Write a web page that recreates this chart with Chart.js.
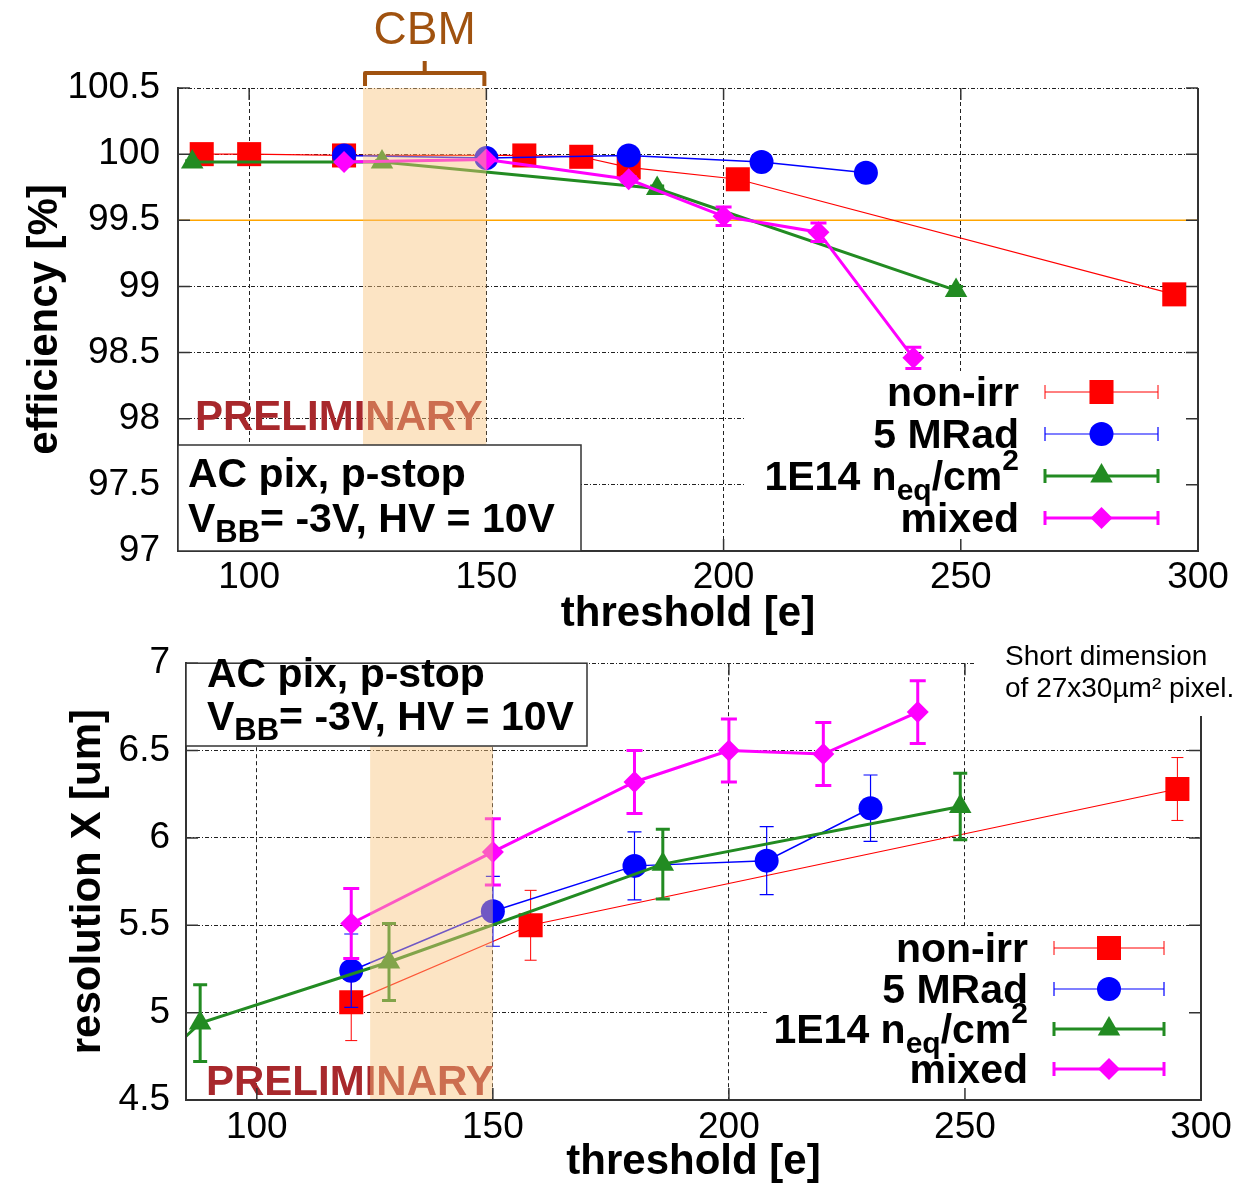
<!DOCTYPE html>
<html>
<head>
<meta charset="utf-8">
<script src="https://cdn.jsdelivr.net/npm/chart.js@4.4.0/dist/chart.umd.min.js"></script>
<style>
	body { margin: 0; background: #fff; }
	#wrap { position: relative; width: 1253px; height: 1183px; overflow: hidden; background: #fff; }
	canvas { position: absolute; left: 0; }
	#cTop { top: 0; }
	#cBot { top: 625px; }
</style>
</head>
<body>
<div id="wrap">
	<canvas id="cTop" width="1253" height="645"></canvas>
	<canvas id="cBot" width="1253" height="558"></canvas>
</div>
<script>
//Data-------------------------------------
var xTicks = [100, 150, 200, 250, 300];
var thrMin = 85, thrMax = 300;
var bandLo = 124, bandHi = 150; //CBM threshold window
var effRefLine = 99.5;

//efficiency [%] vs threshold [e]
var effThrNonIrr = [90, 100, 120, 158, 170, 180, 203, 295];
var effNonIrr = [100.0, 100.0, 99.99, 99.99, 99.98, 99.90, 99.81, 98.94];
var effErrNonIrr = [0.01, 0.01, 0.01, 0.01, 0.01, 0.01, 0.01, 0.01];
var effThr5MRad = [120, 150, 180, 208, 230];
var eff5MRad = [99.99, 99.97, 99.99, 99.94, 99.86];
var effErr5MRad = [0.01, 0.01, 0.01, 0.01, 0.015];
var effThrNeq = [88, 128, 186, 249];
var effNeq = [99.94, 99.94, 99.74, 98.97];
var effErrNeq = [0.01, 0.01, 0.02, 0.03];
var effThrMixed = [120, 150, 180, 200, 220, 240];
var effMixed = [99.94, 99.96, 99.81, 99.53, 99.41, 98.46];
var effErrMixed = [0.01, 0.01, 0.02, 0.07, 0.07, 0.08];

//resolution X [um] vs threshold [e]
var resThrNonIrr = [120, 158, 295];
var resNonIrr = [5.06, 5.50, 6.28];
var resErrNonIrr = [0.22, 0.20, 0.18];
var resThr5MRad = [120, 150, 180, 208, 230];
var res5MRad = [5.24, 5.58, 5.84, 5.87, 6.17];
var resErr5MRad = [0.21, 0.20, 0.195, 0.195, 0.19];
var resThrNeq = [80, 88, 128, 186, 249];
var resNeq = [4.74, 4.94, 5.29, 5.85, 6.18];
var resErrNeq = [0.22, 0.22, 0.22, 0.20, 0.19];
var resThrMixed = [120, 150, 180, 200, 220, 240];
var resMixed = [5.51, 5.92, 6.32, 6.50, 6.48, 6.72];
var resErrMixed = [0.20, 0.19, 0.18, 0.18, 0.18, 0.18];

//Styles------------------------------------
var FONT = "'Liberation Sans', Arial, Helvetica, sans-serif";
var bandColor = 'rgba(248,195,124,0.45)';
var prelimColor = '#a8282c';
var cbmColor = '#a0520f';

var seriesStyle = [
	{ name: 'non-irr', color: '#ff0000', line: 1.2, err: 1, cap: 6, shape: 'rect', r: 17 },
	{ name: '5 MRad', color: '#0000ff', line: 1.5, err: 1.2, cap: 7, shape: 'circle', r: 12 },
	{ name: '1E14 neq/cm2', color: '#228b22', line: 3, err: 3, cap: 7, shape: 'triangle', r: 13 },
	{ name: 'mixed', color: '#ff00ff', line: 3, err: 3, cap: 8, shape: 'rectRot', r: 11 }
];
var legendParts = [
	[{ t: 'non-irr' }],
	[{ t: '5 MRad' }],
	[{ t: '1E14 n' }, { t: 'eq', sub: true }, { t: '/cm' }, { t: '2', sup: true }],
	[{ t: 'mixed' }]
];

//Helpers-----------------------------------
function makeDatasets(thrs, vals, errs) {
	var list = [];
	for (var i = 0; i < seriesStyle.length; i++) {
		var s = seriesStyle[i];
		var pts = [];
		for (var j = 0; j < thrs[i].length; j++)
			pts.push({ x: thrs[i][j], y: vals[i][j] });
		list.push({
			label: s.name,
			data: pts,
			errY: errs[i],
			errW: s.err,
			capW: s.cap,
			showLine: true,
			borderColor: s.color,
			backgroundColor: s.color,
			borderWidth: s.line,
			pointStyle: s.shape,
			pointRadius: s.r,
			pointBorderWidth: 0,
			pointBackgroundColor: s.color,
			order: seriesStyle.length - i //red at the bottom, mixed on top
		});
	}
	return list;
}

function drawErrorBars(chart, index) {
	var ds = chart.data.datasets[index];
	if (!ds.errY) return;
	var ctx = chart.ctx, xs = chart.scales.x, ys = chart.scales.y;
	ctx.save();
	ctx.strokeStyle = ds.borderColor;
	ctx.lineWidth = ds.errW;
	for (var i = 0; i < ds.data.length; i++) {
		var p = ds.data[i];
		if (p.x < xs.min || p.x > xs.max) continue;
		var x = xs.getPixelForValue(p.x);
		var y0 = ys.getPixelForValue(p.y - ds.errY[i]);
		var y1 = ys.getPixelForValue(p.y + ds.errY[i]);
		ctx.beginPath();
		ctx.moveTo(x, y0); ctx.lineTo(x, y1);
		ctx.moveTo(x - ds.capW, y0); ctx.lineTo(x + ds.capW, y0);
		ctx.moveTo(x - ds.capW, y1); ctx.lineTo(x + ds.capW, y1);
		ctx.stroke();
	}
	ctx.restore();
}

function drawMarker(ctx, shape, x, y, r, color) {
	ctx.fillStyle = color;
	ctx.beginPath();
	if (shape === 'rect') {
		var h = r * Math.SQRT1_2;
		ctx.rect(x - h, y - h, 2 * h, 2 * h);
	} else if (shape === 'circle') {
		ctx.arc(x, y, r, 0, Math.PI * 2);
	} else if (shape === 'triangle') {
		ctx.moveTo(x, y - r);
		ctx.lineTo(x + r * Math.sqrt(3) / 2, y + r / 2);
		ctx.lineTo(x - r * Math.sqrt(3) / 2, y + r / 2);
		ctx.closePath();
	} else {
		ctx.moveTo(x - r, y); ctx.lineTo(x, y - r);
		ctx.lineTo(x + r, y); ctx.lineTo(x, y + r);
		ctx.closePath();
	}
	ctx.fill();
}

//text with sub/superscripts, drawn piece by piece
function richText(ctx, parts, x, y, align, size, subSize) {
	var total = 0;
	var widths = [];
	for (var i = 0; i < parts.length; i++) {
		var p = parts[i];
		ctx.font = 'bold ' + ((p.sub || p.sup) ? subSize : size) + 'px ' + FONT;
		widths[i] = ctx.measureText(p.t).width;
		total += widths[i];
	}
	var cx = align === 'right' ? x - total : x;
	ctx.textAlign = 'left';
	ctx.textBaseline = 'alphabetic';
	for (var i = 0; i < parts.length; i++) {
		var p = parts[i];
		ctx.font = 'bold ' + ((p.sub || p.sup) ? subSize : size) + 'px ' + FONT;
		var dy = p.sub ? 10 : (p.sup ? -20 : 0);
		ctx.fillText(p.t, cx, y + dy);
		cx += widths[i];
	}
}

function drawLegend(ctx, textRight, sx0, sx1, rowsY) {
	var mx = (sx0 + sx1) / 2;
	ctx.save();
	for (var i = 0; i < seriesStyle.length; i++) {
		var s = seriesStyle[i], y = rowsY[i];
		ctx.fillStyle = '#000';
		richText(ctx, legendParts[i], textRight, y + 14, 'right', 41, 30);
		ctx.strokeStyle = s.color;
		ctx.lineWidth = s.err;
		ctx.beginPath();
		ctx.moveTo(sx0, y); ctx.lineTo(sx1, y);
		ctx.moveTo(sx0, y - 7); ctx.lineTo(sx0, y + 7);
		ctx.moveTo(sx1, y - 7); ctx.lineTo(sx1, y + 7);
		ctx.stroke();
		drawMarker(ctx, s.shape, mx, y, s.r, s.color);
	}
	ctx.restore();
}

function drawBand(chart) {
	var ctx = chart.ctx, a = chart.chartArea, xs = chart.scales.x;
	var x0 = xs.getPixelForValue(bandLo), x1 = xs.getPixelForValue(bandHi);
	ctx.save();
	ctx.fillStyle = bandColor;
	ctx.fillRect(x0, a.top, x1 - x0, a.bottom - a.top);
	ctx.restore();
}

function drawPrelim(ctx, x, y) {
	ctx.save();
	ctx.font = 'bold 42px ' + FONT;
	ctx.fillStyle = prelimColor;
	ctx.textAlign = 'left';
	ctx.textBaseline = 'alphabetic';
	ctx.fillText('PRELIMINARY', x, y);
	ctx.restore();
}

//gnuplot-like frame: solid borders and inward ticks on all four sides
function drawFrame(chart) {
	var ctx = chart.ctx, a = chart.chartArea, xs = chart.scales.x, ys = chart.scales.y;
	ctx.save();
	ctx.strokeStyle = '#333';
	ctx.lineWidth = 2;
	ctx.beginPath();
	ctx.moveTo(a.left, a.top); ctx.lineTo(a.left, a.bottom);
	ctx.lineTo(a.right, a.bottom); ctx.lineTo(a.right, a.top);
	ctx.stroke();
	ctx.lineWidth = 1.5;
	ctx.beginPath();
	for (var i = 0; i < xTicks.length; i++) {
		var x = xs.getPixelForValue(xTicks[i]);
		ctx.moveTo(x, a.bottom); ctx.lineTo(x, a.bottom - 12);
		ctx.moveTo(x, a.top); ctx.lineTo(x, a.top + 12);
	}
	for (var j = 0; j < ys.ticks.length; j++) {
		var y = ys.getPixelForValue(ys.ticks[j].value);
		ctx.moveTo(a.left, y); ctx.lineTo(a.left + 12, y);
		ctx.moveTo(a.right, y); ctx.lineTo(a.right - 12, y);
	}
	ctx.stroke();
	ctx.restore();
}

function drawInfoBox(ctx, x0, y0, x1, y1, tx, base1, base2) {
	ctx.save();
	ctx.fillStyle = '#fff';
	ctx.fillRect(x0, y0, x1 - x0, y1 - y0);
	ctx.strokeStyle = '#333';
	ctx.lineWidth = 1.5;
	ctx.strokeRect(x0, y0, x1 - x0, y1 - y0);
	ctx.fillStyle = '#000';
	richText(ctx, [{ t: 'AC pix, p-stop' }], tx, base1, 'left', 41, 31);
	richText(ctx, [{ t: 'V' }, { t: 'BB', sub: true }, { t: '= -3V, HV = 10V' }], tx, base2, 'left', 41, 31);
	ctx.restore();
}

//plain tick text: 100 not 100.0
function tickText(v) {
	return String(Math.round(v * 100) / 100);
}

function makeOptions(cfg) {
	return {
		responsive: false,
		animation: false,
		events: [],
		layout: { padding: { left: 0, top: cfg.padTop, right: cfg.padRight, bottom: 0 } },
		plugins: { legend: { display: false }, tooltip: { enabled: false } },
		scales: {
			x: {
				type: 'linear',
				min: thrMin,
				max: thrMax,
				afterBuildTicks: function (scale) {
					scale.ticks = xTicks.map(function (v) { return { value: v }; });
				},
				afterFit: function (scale) { scale.height = cfg.xHeight; },
				grid: { color: '#222', lineWidth: 1, drawTicks: false },
				border: { display: true, color: '#333', width: 2, dash: [4, 3] },
				ticks: { color: '#000', padding: cfg.xTickPad, font: { size: 37, family: FONT }, callback: tickText },
				title: {
					display: true,
					text: 'threshold [e]',
					color: '#000',
					padding: { top: 0, bottom: cfg.xTitlePad },
					font: { size: 42, weight: 'bold', family: FONT, lineHeight: 1 }
				}
			},
			y: {
				min: cfg.yMin,
				max: cfg.yMax,
				afterFit: function (scale) { scale.width = cfg.yWidth; },
				grid: { color: '#222', lineWidth: 1, drawTicks: false },
				border: { display: true, color: '#333', width: 2, dash: [4, 2, 1, 2] },
				ticks: { stepSize: 0.5, color: '#000', padding: cfg.yTickPad, font: { size: 37, family: FONT }, callback: tickText },
				title: {
					display: true,
					text: cfg.yTitle,
					color: '#000',
					padding: { top: cfg.yTitlePad, bottom: 0 },
					font: { size: 42, weight: 'bold', family: FONT, lineHeight: 1 }
				}
			}
		}
	};
}

//Top chart: efficiency---------------------
var topDecor = {
	id: 'topDecor',
	beforeDatasetsDraw: function (chart) {
		//99.5 % reference line
		var ctx = chart.ctx, a = chart.chartArea;
		var y = chart.scales.y.getPixelForValue(effRefLine);
		ctx.save();
		ctx.strokeStyle = '#ffa500';
		ctx.lineWidth = 1.5;
		ctx.beginPath();
		ctx.moveTo(a.left, y); ctx.lineTo(a.right, y);
		ctx.stroke();
		ctx.restore();
	},
	beforeDatasetDraw: function (chart, args) {
		drawErrorBars(chart, args.index);
	},
	afterDatasetsDraw: function (chart) {
		var ctx = chart.ctx, a = chart.chartArea, xs = chart.scales.x;
		drawPrelim(ctx, 195, 430);
		drawBand(chart);

		//opaque key box hides the grid
		ctx.fillStyle = '#fff';
		ctx.fillRect(745, 371, a.right - 746, a.bottom - 372);
		drawFrame(chart);
		drawInfoBox(ctx, a.left, 445, 581, a.bottom, 188, 487, 532);
		drawLegend(ctx, 1019, 1045, 1158, [392, 434, 476, 518]);

		//CBM bracket above the band
		var xl = xs.getPixelForValue(bandLo) + 2, xr = xs.getPixelForValue(bandHi) - 2;
		var xm = (xl + xr) / 2;
		ctx.save();
		ctx.strokeStyle = cbmColor;
		ctx.lineWidth = 4;
		ctx.lineJoin = 'round';
		ctx.beginPath();
		ctx.moveTo(xl, 86); ctx.lineTo(xl, 73); ctx.lineTo(xr, 73); ctx.lineTo(xr, 86);
		ctx.moveTo(xm, 73); ctx.lineTo(xm, 61);
		ctx.stroke();
		ctx.fillStyle = cbmColor;
		ctx.font = '46px ' + FONT;
		ctx.textAlign = 'center';
		ctx.textBaseline = 'alphabetic';
		ctx.fillText('CBM', xm, 44);
		ctx.restore();
	}
};

new Chart(document.getElementById('cTop'), {
	type: 'scatter',
	data: {
		datasets: makeDatasets(
			[effThrNonIrr, effThr5MRad, effThrNeq, effThrMixed],
			[effNonIrr, eff5MRad, effNeq, effMixed],
			[effErrNonIrr, effErr5MRad, effErrNeq, effErrMixed])
	},
	options: makeOptions({
		padTop: 88, padRight: 55, xHeight: 94, yWidth: 178,
		yMin: 97, yMax: 100.5, yTitle: 'efficiency [%]',
		xTickPad: 5, yTickPad: 18, xTitlePad: 10, yTitlePad: 24
	}),
	plugins: [topDecor]
});

//Bottom chart: resolution------------------
var botDecor = {
	id: 'botDecor',
	beforeDatasetDraw: function (chart, args) {
		drawErrorBars(chart, args.index);
	},
	afterDatasetsDraw: function (chart) {
		var ctx = chart.ctx, a = chart.chartArea;
		drawPrelim(ctx, 206, 470);
		drawBand(chart);

		ctx.fillStyle = '#fff';
		ctx.fillRect(768, 301, a.right - 769, a.bottom - 302);
		drawFrame(chart);
		drawInfoBox(ctx, a.left, a.top, 587, 121, 207, 62, 105);
		drawLegend(ctx, 1028, 1054, 1164, [323, 364, 404, 444]);

		//pixel note at the top right
		ctx.save();
		ctx.fillStyle = '#fff';
		ctx.fillRect(975, 0, 1253 - 975, 91);
		ctx.fillStyle = '#000';
		ctx.font = '28px ' + FONT;
		ctx.textAlign = 'left';
		ctx.textBaseline = 'alphabetic';
		ctx.fillText('Short dimension', 1005, 40);
		ctx.fillText('of 27x30\u00b5m\u00b2 pixel.', 1005, 72);
		ctx.restore();
	}
};

new Chart(document.getElementById('cBot'), {
	type: 'scatter',
	data: {
		datasets: makeDatasets(
			[resThrNonIrr, resThr5MRad, resThrNeq, resThrMixed],
			[resNonIrr, res5MRad, resNeq, resMixed],
			[resErrNonIrr, resErr5MRad, resErrNeq, resErrMixed])
	},
	options: makeOptions({
		padTop: 30, padRight: 52, xHeight: 83, yWidth: 186,
		yMin: 4.5, yMax: 7, yTitle: 'resolution X [um]',
		xTickPad: 6, yTickPad: 16, xTitlePad: 0, yTitlePad: 67
	}),
	plugins: [botDecor]
});
</script>
</body>
</html>
